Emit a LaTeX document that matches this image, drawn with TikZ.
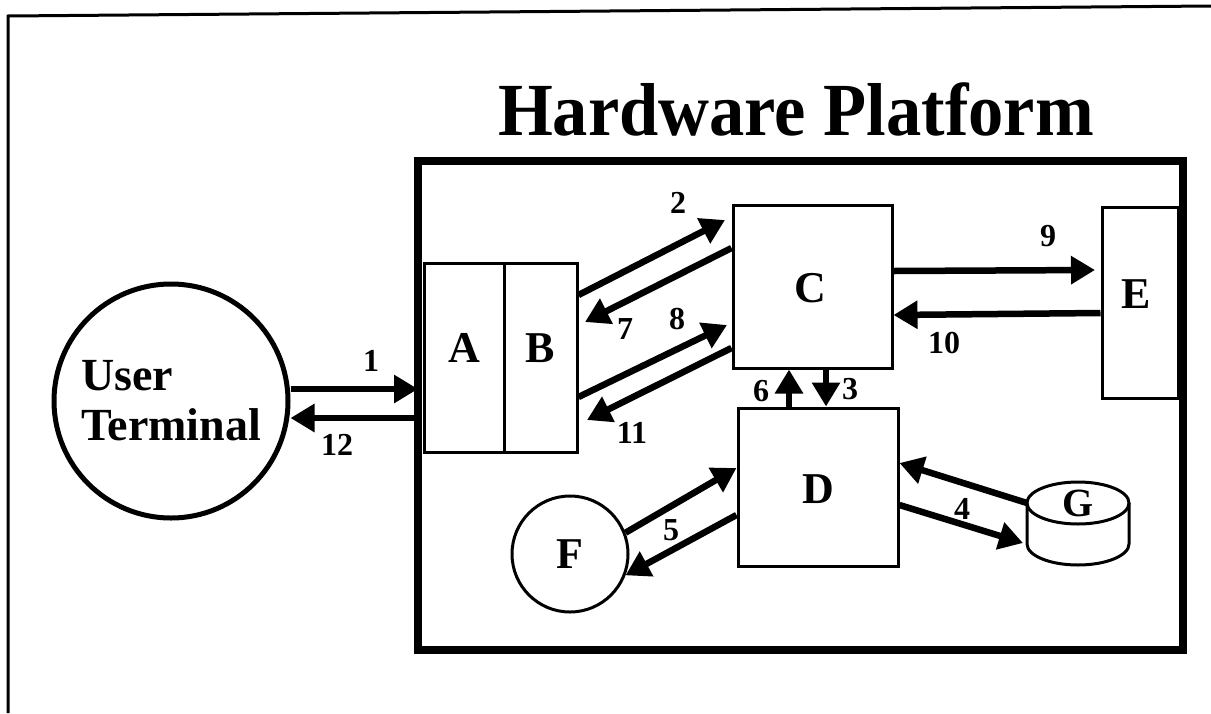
\documentclass[tikz,border=0pt]{standalone}
\usepackage{fontspec}
\usepackage{graphicx}
\setmainfont{Liberation Serif}
\usetikzlibrary{arrows.meta,calc,shapes.geometric}
\begin{document}
\begin{tikzpicture}[x=1pt,y=-1pt,
  box/.style={draw, line width=3pt, rectangle, inner sep=0pt},
  arr/.style={line width=6.5pt, -{Triangle[length=24pt,width=27pt]}},
  lbl/.style={font=\bfseries\fontsize{44}{44}\selectfont, inner sep=0pt, anchor=base},
  num/.style={font=\bfseries\fontsize{32}{32}\selectfont, inner sep=0pt},
]
\useasboundingbox (0,0) rectangle (1211,713);
% page edge
\draw[line width=3pt] (8,713) -- (8,16) -- (1211,6);

% title
\node[font=\bfseries\fontsize{75}{75}\selectfont, anchor=base, inner sep=0pt] (title) at (796,135) {\scalebox{0.94}[1]{Hardware Platform}};

% user terminal
\node[circle, draw, line width=5pt, minimum size=234pt, inner sep=0pt, align=left,
      font=\bfseries\fontsize{46}{50}\selectfont] (UT) at (171,401) {User\\Terminal};

% boxes
\node[box, minimum width=80pt, minimum height=189pt] (A) at (464,357.5) {};
\node[box, minimum width=73pt, minimum height=189pt] (B) at (540.5,357.5) {};
\node[box, minimum width=159pt, minimum height=163pt] (C) at (812.5,286.5) {};
\node[box, minimum width=160pt, minimum height=158pt] (D) at (818,487) {};
\node[box, minimum width=76pt, minimum height=191pt] (E) at (1140,302.5) {};
\node[circle, draw, line width=3pt, minimum size=116pt, inner sep=0pt,
      font=\bfseries\fontsize{44}{44}\selectfont] (F) at (570,554) {F};
\node[ellipse, draw, line width=3pt, minimum width=102pt, minimum height=42pt, inner sep=0pt, outer sep=0pt,
      font=\bfseries\fontsize{40}{40}\selectfont] (G) at (1078,503) {G};
\draw[line width=3pt] (G.west) -- ++(0,41) arc[start angle=180, end angle=0, x radius=51, y radius=21] -- (G.east);

% letters
\node[lbl] (la) at (464,362) {A};
\node[lbl] (lb) at (540,362) {B};
\node[lbl] (lc) at (810,302) {C};
\node[lbl] (ld) at (818,503) {D};
\node[lbl] (le) at (1136,308) {E};

% arrows
\draw[arr] (UT.east |- 0,389) -- (418,389) coordinate (hp1);
\draw[arr] (B.east |- 0,295) -- ($(C.west |- 0,220)+(-6.5,0)$);
\draw[arr] (C.west |- 0,248) -- ($(B.east |- 0,322)+(6.5,0)$);
\draw[arr] (B.east |- 0,397) -- ($(C.west |- 0,325)+(-4.5,0)$);
\draw[arr] (C.west |- 0,348) -- ($(B.east |- 0,420)+(8.5,0)$);
\draw[arr] (D.north -| 789,0) -- (C.south -| 789,0);
\draw[arr] (C.south -| 826,0) -- (D.north -| 826,0);
\draw[arr] (C.east |- 0,271) -- ($(E.west |- 0,270)+(-5.5,0)$);
\draw[arr] (E.west |- 0,313) -- (C.east |- 0,315);
\draw[arr] (G.west) -- (D.east |- 0,463);
\draw[arr] (D.east |- 0,505) -- ($(G.west)+(-4,40)$);
\draw[arr] (F.21) -- (D.west |- 0,468);
\draw[arr] (D.west |- 0,515) -- (F.-21);

% hardware platform frame
\node[draw, line width=8pt, rectangle, inner sep=0pt, minimum width=765pt, minimum height=489pt] (HP) at (800.5,405.5) {};
\draw[arr] (HP.west |- 0,418) -- (UT.east |- 0,418);

% numbers
\node[num] (n1) at (371,361) {1};
\node[num] (n2) at (678,203) {2};
\node[num] (n3) at (850,389) {3};
\node[num] (n4) at (962,509) {4};
\node[num] (n5) at (671,530) {5};
\node[num] (n6) at (761,391) {6};
\node[num] (n7) at (625,329) {7};
\node[num] (n8) at (677,319) {8};
\node[num] (n9) at (1048,236) {9};
\node[num] (n10) at (944,343) {10};
\node[num] (n11) at (632,433) {11};
\node[num] (n12) at (337,445) {12};
\end{tikzpicture}
\end{document}
